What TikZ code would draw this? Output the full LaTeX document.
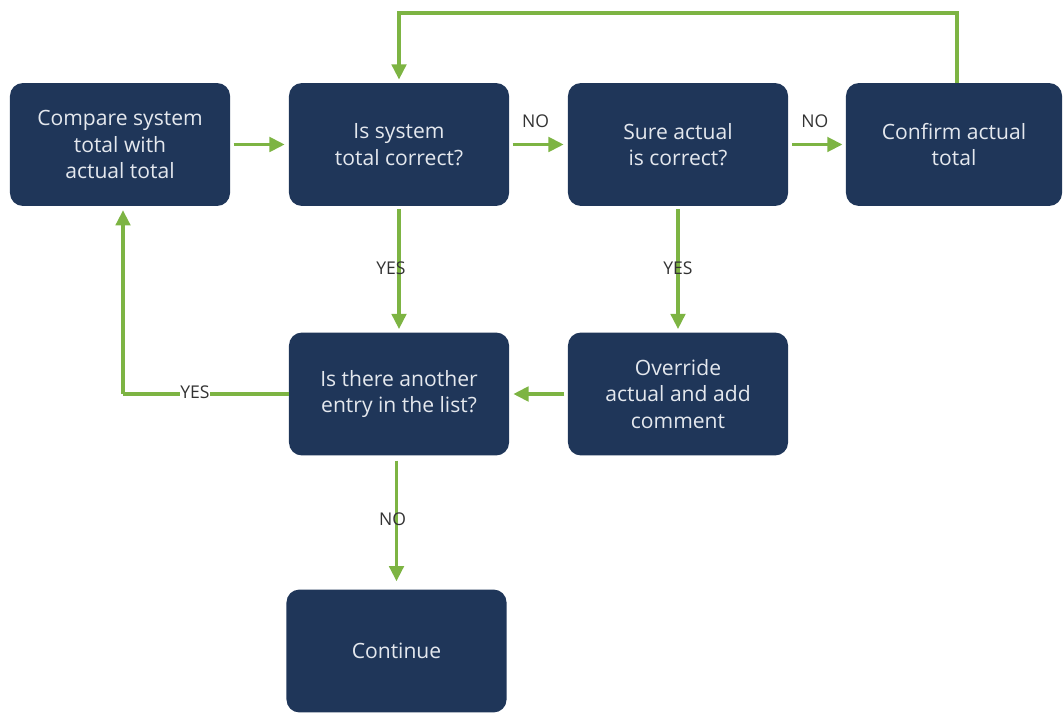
\documentclass[tikz,border=0pt]{standalone}
\usepackage{fontspec}
\setmainfont{Open Sans}
\usetikzlibrary{arrows.meta}
\definecolor{navy}{HTML}{1F3659}
\definecolor{leaf}{HTML}{7DB443}
\definecolor{boxtext}{HTML}{E4E8EE}
\definecolor{labeltext}{HTML}{333333}
\begin{document}
\begin{tikzpicture}[x=0.025cm,y=-0.025cm,
  stepbox/.style={draw=none,fill=navy,rounded corners=0.32cm,minimum width=5.5cm,minimum height=3.07cm,
    text=boxtext,align=center,font=\fontsize{15}{18.8}\selectfont,inner sep=0pt},
  flow/.style={draw=leaf,line width=2.5pt,-{Triangle[length=0.38cm,width=0.36cm]}},
  plain/.style={draw=leaf,line width=2.5pt},
  lbl/.style={text=labeltext,font=\fontsize{12.5}{14}\selectfont,inner sep=1pt}]
\useasboundingbox (0,0) rectangle (1063,714);

\node[stepbox] (cmp) at (120,144.5) {Compare system\\total with\\actual total};
\node[stepbox] (sys) at (399,144.5) {Is system\\total correct?};
\node[stepbox] (sure) at (678,144.5) {Sure actual\\is correct?};
\node[stepbox,minimum width=5.4cm] (conf) at (954,144.5) {Confirm actual\\total};
\node[stepbox] (more) at (399,394) {Is there another\\entry in the list?};
\node[stepbox] (ovr) at (678,394) {Override\\actual and add\\comment};
\node[stepbox] (cont) at (396.5,651) {Continue};

\coordinate (topR) at (957,13);
\coordinate (topL) at (399,13);
\coordinate (leftB) at (123,394);

\draw[flow] ([xshift=0.08cm]cmp.east) -- ([xshift=-0.1cm]sys.west);
\draw[flow] ([xshift=0.08cm]sys.east) -- ([xshift=-0.1cm]sure.west)
  node[lbl,pos=0.45,above=0.35cm] {NO};
\draw[flow] ([xshift=0.1cm]sure.east) -- ([xshift=-0.08cm]conf.west)
  node[lbl,pos=0.45,above=0.35cm] {NO};
\draw[flow] (conf.north -| topR) -- (topR) -- (topL) -- ([yshift=0.08cm]sys.north);
\draw[flow] ([yshift=-0.08cm]sys.south) -- ([yshift=0.08cm]more.north)
  node[lbl,pos=0.49,xshift=-0.2cm] {YES};
\draw[flow] ([yshift=-0.08cm]sure.south) -- ([yshift=0.08cm]ovr.north)
  node[lbl,pos=0.49] {YES};
\draw[flow] ([xshift=-0.08cm]ovr.west) -- ([xshift=0.1cm]more.east);
\draw[plain] (more.west) -- (leftB);
\draw[flow] (leftB) -- ([yshift=-0.1cm]cmp.south -| leftB);
\node[lbl,fill=white,inner sep=0.5pt] (yesL) at (195,392) {YES};
\draw[flow] ([yshift=-0.12cm]more.south -| cont.north) -- ([yshift=0.2cm]cont.north)
  node[lbl,pos=0.49,xshift=-0.1cm] {NO};
\end{tikzpicture}
\end{document}
